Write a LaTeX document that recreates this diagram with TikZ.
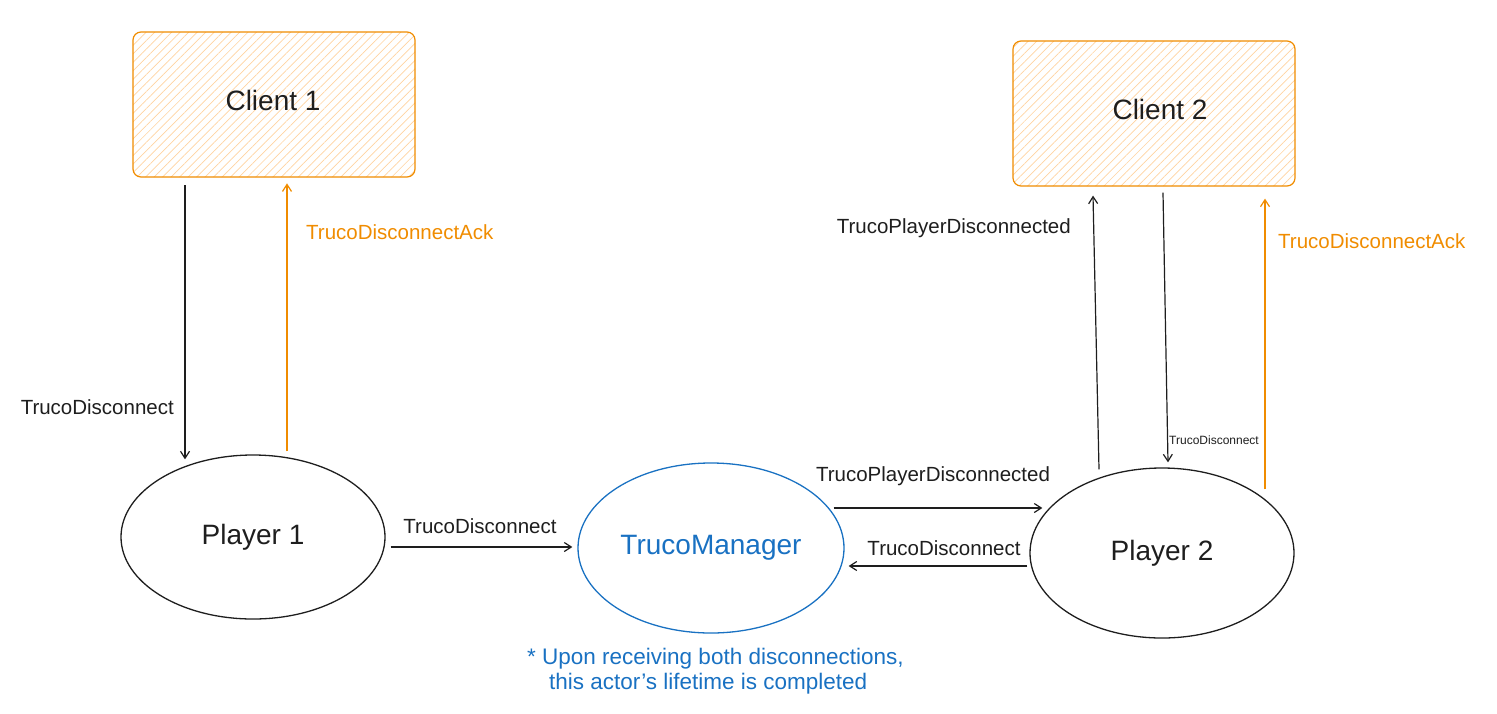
\documentclass[tikz,border=0pt]{standalone}
\usepackage{fontspec}
\setmainfont{Liberation Sans}
\usetikzlibrary{shapes.geometric,arrows.meta,patterns.meta}
\definecolor{inkblack}{HTML}{1E1E1E}
\definecolor{inkorange}{HTML}{F08C00}
\definecolor{inkblue}{HTML}{1971C2}
\definecolor{hatchorange}{HTML}{FFD3A0}
\tikzset{
  clientbox/.style={draw=inkorange, line width=1.2pt, rounded corners=8pt,
    minimum width=282pt, minimum height=145pt, inner sep=0pt,
    pattern={Lines[angle=45,distance=6pt,line width=0.7pt]}, pattern color=hatchorange},
  boxtext/.style={inner sep=0pt, text=inkblack, font=\fontsize{28}{32}\selectfont},
  actor/.style={draw=inkblack, ellipse, line width=1.3pt, inner sep=0pt,
    text=inkblack, font=\fontsize{28}{32}\selectfont},
  arr/.style={-{Straight Barb[length=7pt,width=9pt]}, line width=1.2pt, draw=inkblack},
  arro/.style={arr, draw=inkorange},
  lbl/.style={inner sep=0pt, text=inkblack, font=\fontsize{20.5}{24}\selectfont},
  lblo/.style={lbl, text=inkorange},
  lbls/.style={inner sep=0pt, text=inkblack, font=\fontsize{12}{14}\selectfont},
}
\begin{document}
\begin{tikzpicture}[x=1pt,y=-1pt]
\useasboundingbox (0,0) rectangle (1497,713);
\node[clientbox] (c1) at (274,104.5) {};
\node[boxtext] (c1t) at ([shift={(-1,-4)}]c1.center) {Client 1};
\node[clientbox] (c2) at (1154,113.5) {};
\node[boxtext] (c2t) at ([shift={(6,-4)}]c2.center) {Client 2};
\node[actor, minimum width=264pt, minimum height=164pt] (p1) at (253,537) {Player 1};
\node[actor, draw=inkblue, text=inkblue, minimum width=266pt, minimum height=170pt] (tm) at (711,548) {TrucoManager};
\node[actor, minimum width=264pt, minimum height=170pt] (p2) at (1162,553) {Player 2};

\draw[arr] ([shift={(-89,8)}]c1.south) -- ([shift={(-68,5)}]p1.north);
\draw[arro] ([shift={(34,-3)}]p1.north) -- ([shift={(13,6)}]c1.south);
\draw[arr] ([shift={(5,10)}]p1.east) -- ([shift={(-5,-1)}]tm.west);
\draw[arr] ([shift={(-11,-40)}]tm.east) -- ([shift={(13,-45)}]p2.west);
\draw[arr] ([shift={(-2,13)}]p2.west) -- ([shift={(4,18)}]tm.east);
\draw[arr] ([shift={(-63,2)}]p2.north) -- ([shift={(-61,9)}]c2.south);
\draw[arr] ([shift={(9,6)}]c2.south) -- ([shift={(6,-5)}]p2.north);
\draw[arro] ([shift={(103,22)}]p2.north) -- ([shift={(111,12)}]c2.south);

\node[lbl, anchor=east] (l1) at (174,407) {TrucoDisconnect};
\node[lblo, anchor=west] (l2) at (306,232) {TrucoDisconnectAck};
\node[lbl] (l3) at (480,526) {TrucoDisconnect};
\node[lbl] (l4) at (933,476) {TrucoPlayerDisconnected};
\node[lbl] (l5) at (944,548) {TrucoDisconnect};
\node[lbl, anchor=east] (l6) at (1071,228) {TrucoPlayerDisconnected};
\node[lbls, anchor=west] (l7) at (1169,440) {TrucoDisconnect};
\node[lblo, anchor=west] (l8) at (1278,241) {TrucoDisconnectAck};
\node[lbl, text=inkblue, anchor=north west, align=left, font=\fontsize{22.5}{25}\selectfont] (note) at (527,648)
  {* Upon receiving both disconnections,\\\hspace{22pt}this actor's lifetime is completed};
\end{tikzpicture}
\end{document}
